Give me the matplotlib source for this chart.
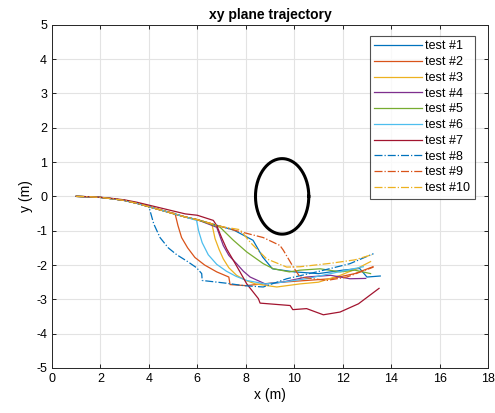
import matplotlib
matplotlib.use("Agg")
import matplotlib.pyplot as plt
import numpy as np

plt.rcParams['font.family'] = ['Liberation Sans', 'DejaVu Sans']
plt.rcParams['axes.unicode_minus'] = False

# shared first part of the runs (x, y in metres)
common_x = [1.0, 1.5, 2.0, 2.5, 3.0, 3.5, 4.0, 4.5, 5.0, 5.5, 6.0, 6.5, 7.0, 7.5, 8.0]
common_y = [0.0, -0.01, -0.03, -0.07, -0.12, -0.2, -0.3, -0.4, -0.5, -0.6, -0.68, -0.78, -0.88, -0.98, -1.08]

# where each run leaves the shared part, then its own points
split_at = [8.0, 5.0, 6.5, 6.5, 6.5, 6.0, 6.0, 4.0, 8.0, 7.5]

t1_x = [8.3, 8.7, 9.1, 10.0, 11.0, 12.0, 12.7, 13.0, 13.55]
t1_y = [-1.28, -1.77, -2.11, -2.2, -2.25, -2.15, -2.1, -2.35, -2.32]
t2_x = [5.08, 5.2, 5.35, 5.6, 5.9, 6.3, 6.8, 7.3, 7.35, 8.0, 8.7, 9.5, 10.5, 11.5, 12.5, 13.25]
t2_y = [-0.5, -0.85, -1.2, -1.5, -1.78, -2.0, -2.2, -2.35, -2.57, -2.6, -2.55, -2.5, -2.45, -2.4, -2.25, -2.05]
t3_x = [6.6, 6.73, 6.9, 7.07, 7.3, 7.62, 8.0, 8.4, 9.28, 10.24, 11.0, 11.9, 12.6, 13.15]
t3_y = [-0.8, -1.23, -1.55, -1.82, -2.08, -2.3, -2.45, -2.55, -2.64, -2.55, -2.5, -2.3, -2.1, -1.9]
t4_x = [6.8, 7.07, 7.3, 7.62, 7.9, 8.18, 8.8, 9.5, 10.5, 11.5, 12.3, 12.95]
t4_y = [-0.9, -1.43, -1.72, -1.96, -2.18, -2.35, -2.55, -2.5, -2.35, -2.3, -2.4, -2.39]
t5_x = [6.94, 7.2, 7.49, 8.04, 8.4, 8.72, 9.14, 9.8, 10.24, 11.07, 11.9, 12.5, 13.15]
t5_y = [-0.9, -1.08, -1.28, -1.62, -1.8, -1.96, -2.11, -2.2, -2.15, -2.11, -2.2, -2.15, -2.25]
t6_x = [5.97, 6.05, 6.2, 6.45, 6.8, 7.2, 7.6, 8.04, 8.8, 9.5, 10.5, 11.5, 12.85]
t6_y = [-0.7, -1.0, -1.35, -1.7, -1.98, -2.18, -2.33, -2.45, -2.55, -2.5, -2.4, -2.25, -2.05]
t7_x = [6.0, 6.66, 6.8, 7.0, 7.21, 7.5, 7.76, 8.04, 8.52, 8.59, 9.83, 9.94, 10.51, 11.2, 11.89, 12.65, 13.5]
t7_y = [-0.55, -0.7, -0.85, -1.2, -1.53, -1.88, -2.2, -2.55, -2.98, -3.11, -3.18, -3.3, -3.27, -3.45, -3.37, -3.13, -2.68]
t8_x = [4.0, 4.2, 4.46, 4.8, 5.15, 5.6, 5.97, 6.18, 6.2, 7.2, 7.9, 8.72, 9.69, 10.93, 12.3, 13.27]
t8_y = [-0.3, -0.8, -1.2, -1.5, -1.7, -1.9, -2.08, -2.25, -2.45, -2.53, -2.6, -2.64, -2.4, -2.2, -1.96, -1.67]
t9_x = [8.72, 9.41, 9.55, 9.96, 10.24, 11.34, 12.17, 13.27]
t9_y = [-1.2, -1.43, -1.57, -2.06, -2.35, -2.45, -2.35, -2.06]
t10_x = [7.76, 8.2, 8.86, 9.69, 10.24, 11.5, 12.5, 13.2]
t10_y = [-0.97, -1.35, -1.82, -2.06, -2.05, -1.95, -1.85, -1.7]

runs_x = [t1_x, t2_x, t3_x, t4_x, t5_x, t6_x, t7_x, t8_x, t9_x, t10_x]
runs_y = [t1_y, t2_y, t3_y, t4_y, t5_y, t6_y, t7_y, t8_y, t9_y, t10_y]
labels = ['test #%d' % (i + 1) for i in range(10)]
colors = ['#0072BD', '#D95319', '#EDB120', '#7E2F8E', '#77AC30',
          '#4DBEEE', '#A2142F', '#0072BD', '#D95319', '#EDB120']
styles = ['-'] * 7 + ['-.'] * 3

# obstacle
obs_x = 9.5
obs_y = 0.0
obs_r = 1.1

fig = plt.figure(figsize=(4.95, 4.13), dpi=100)
ax = fig.add_axes([0.105, 0.109, 0.881, 0.831])

for i in range(10):
    cx = [x for x in common_x if x < split_at[i]]
    cy = common_y[:len(cx)]
    if i == 6:
        # test 7 runs a bit higher before the drop
        cy = [y * 0.85 for y in cy]
    xs = cx + runs_x[i]
    ys = cy + runs_y[i]
    ax.plot(xs, ys, color=colors[i], linestyle=styles[i], linewidth=0.9, label=labels[i])

th = np.linspace(0, 2 * np.pi, 200)
ax.plot(obs_x + obs_r * np.cos(th), obs_y + obs_r * np.sin(th), color='black', linewidth=2.2)

ax.set_xlim(0, 18)
ax.set_ylim(-5, 5)
ax.set_xticks(np.arange(0, 19, 2))
ax.set_yticks(np.arange(-5, 6, 1))
ax.grid(True, color='#e3e3e3', linewidth=0.8)
ax.set_axisbelow(True)
ax.tick_params(direction='in', top=True, right=True, labelsize=9, length=3, width=0.6)
for s in ax.spines.values():
    s.set_linewidth(0.7)
    s.set_color('#262626')
ax.set_title('xy plane trajectory', fontsize=10, fontweight='bold', pad=4)
ax.set_xlabel('x (m)', fontsize=10, labelpad=2)
ax.set_ylabel('y (m)', fontsize=10, labelpad=2)

leg = ax.legend(loc='upper right', fontsize=9, fancybox=False, edgecolor='#262626',
                borderaxespad=0.9, handlelength=3.8, labelspacing=0.3, borderpad=0.35,
                handletextpad=0.3, bbox_to_anchor=(0.995, 1.0))
leg.get_frame().set_linewidth(0.8)

fig.savefig('out.png', dpi=100)
